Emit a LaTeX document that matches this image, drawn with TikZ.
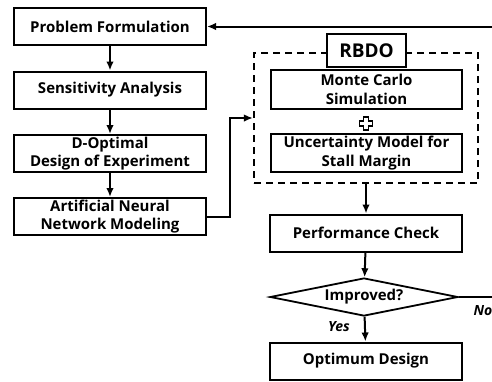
\documentclass[tikz,border=0pt]{standalone}
\usepackage{fontspec}
\setmainfont{Open Sans}
\usetikzlibrary{arrows.meta,shapes.geometric}

\begin{document}
\begin{tikzpicture}[x=1pt,y=-1pt,
	box/.style={draw,line width=2pt,minimum width=192pt,minimum height=37pt,inner sep=1pt,align=center,font=\bfseries\fontsize{15}{18.5}\selectfont},
	arr/.style={line width=2pt,-{Latex[length=9pt,width=7.5pt]}},
	lbl/.style={font=\bfseries\itshape\fontsize{14}{15}\selectfont}]
	\useasboundingbox (0,0) rectangle (492,381);
	% left column
	\node[box] (pf) at (110,26.5) {Problem Formulation};
	\node[box] (sa) at (110,90) {Sensitivity Analysis};
	\node[box] (doe) at (110,153.5) {D-Optimal\\Design of Experiment};
	\node[box] (ann) at (110,216.5) {Artificial Neural\\Network Modeling};
	% RBDO block
	\node[draw,line width=2.2pt,dash pattern=on 7pt off 5pt,minimum width=224pt,minimum height=130pt] (rbdobox) at (366,118) {};
	\node[box,fill=white,minimum width=79pt,minimum height=33pt,font=\bfseries\fontsize{19}{20}\selectfont] (rbdo) at (366.5,50.5) {RBDO};
	\node[box,minimum width=191pt,minimum height=39pt] (mcs) at (366.5,89.5) {Monte Carlo\\Simulation};
	\node[box,minimum width=191pt,minimum height=38pt] (unc) at (366.5,153) {Uncertainty Model for\\Stall Margin};
	\draw[line width=1.8pt,fill=white] (366,123.5) ++(-2.5,-6.5) -- ++(5,0) -- ++(0,4) -- ++(4,0) -- ++(0,5) -- ++(-4,0) -- ++(0,4) -- ++(-5,0) -- ++(0,-4) -- ++(-4,0) -- ++(0,-5) -- ++(4,0) -- cycle;
	% right column
	\node[box] (pc) at (366,233) {Performance Check};
	\node[draw,diamond,line width=1.8pt,inner sep=0pt,aspect=5,minimum width=188pt,minimum height=38pt,font=\bfseries\fontsize{15}{16}\selectfont] (imp) at (364,297) {Improved?};
	\node[box] (opt) at (366,361) {Optimum Design};
	\node[lbl] (yes) at (339,327) {Yes};
	\node[lbl,anchor=west] (no) at (470,311) {No};
	\coordinate (e1) at (492,297);
	\coordinate (e2) at (492,26.5);
	% connectors
	\foreach \i/\j in {pf/sa,sa/doe,doe/ann}
	\draw[arr] (\i) -- (\j);
	\draw[arr] (ann.east) -- ++(23,0) |- (rbdobox.west);
	\draw[arr] (rbdobox.south) -- (pc);
	\draw[arr] (pc) -- (imp);
	\draw[arr] (imp) -- (opt);
	\draw[line width=2pt] (imp.east) -- (e1);
	\draw[arr] (e2) -- (pf.east);
\end{tikzpicture}
\end{document}
